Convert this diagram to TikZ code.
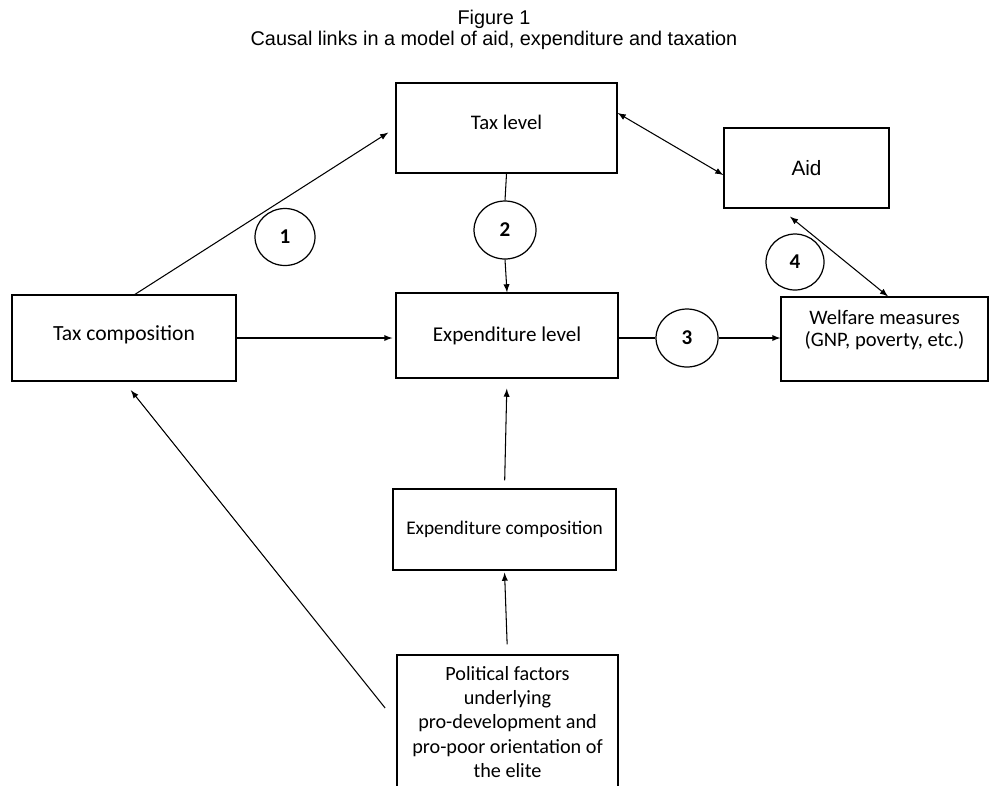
\documentclass[tikz,border=0pt]{standalone}
\usepackage{fontspec}
\setmainfont{Carlito}
\newfontfamily\arialfont{Liberation Sans}
\usetikzlibrary{positioning}
\usetikzlibrary{shapes.geometric}

\tikzset{
    box/.style={draw, rectangle, line width=0.75pt, inner sep=2pt, align=center,
        font=\fontsize{12.3}{13.9}\selectfont},
    numcirc/.style={draw, ellipse, line width=0.7pt, inner sep=0pt,
        minimum width=1.2cm, minimum height=1.14cm,
        font=\fontsize{12}{13}\selectfont\bfseries},
}

\begin{document}
\begin{tikzpicture}[x=0.02cm, y=-0.02cm, line width=0.6pt]
    \useasboundingbox (0,0) rectangle (989,785);
    \node[font=\arialfont\fontsize{11.3}{12}\selectfont, align=center] (title) at (494,30)
        {Figure 1\\Causal links in a model of aid, expenditure and taxation};

    % boxes
    \node[box, minimum width=4.42cm, minimum height=1.8cm, text depth=7pt, font=\fontsize{11.8}{13}\selectfont] (taxlevel) at (506.5,128) {Tax level};
    \node[box, minimum width=3.3cm, minimum height=1.6cm, font=\arialfont\fontsize{11.8}{13}\selectfont] (aid) at (806.5,168) {Aid};
    \node[box, minimum width=4.48cm, minimum height=1.72cm, text depth=6pt] (taxcomp) at (124,338) {Tax composition};
    \node[box, minimum width=4.44cm, minimum height=1.7cm, font=\fontsize{12}{13}\selectfont] (explevel) at (507,335.5) {Expenditure level};
    \node[box, minimum width=4.14cm, minimum height=1.68cm, font=\fontsize{11.7}{12.5}\selectfont, text depth=12pt] (welfare) at (884.5,339) {Welfare measures\\(GNP, poverty, etc.)};
    \node[box, minimum width=4.46cm, minimum height=1.62cm, font=\fontsize{11}{13}\selectfont] (expcomp) at (504.5,529.5) {Expenditure composition};
    \node[box, minimum width=4.42cm, minimum height=2.68cm, font=\fontsize{11.5}{13.9}\selectfont] (political) at (507.5,722)
        {Political factors\\underlying\\pro-development and\\pro-poor orientation of\\the elite};

    % numbered links
    \node[numcirc] (link1) at (285,237) {1};
    \node[numcirc, minimum width=1.24cm, minimum height=1.16cm] (link2) at (505,230) {2};
    \node[numcirc, minimum width=1.24cm, minimum height=1.16cm] (link3) at (687,338) {3};
    \node[numcirc, minimum width=1.16cm, minimum height=1.12cm] (link4) at (795,262) {4};

    % connectors
    \draw[-latex, shorten >=0.17cm] ([xshift=0.22cm]taxcomp.north) -- (taxlevel.west);
    \draw (taxlevel.south) -- (link2.north);
    \draw[-latex] (link2.south) -- (explevel.north);
    \draw[-latex, shorten >=0.06cm] (taxcomp.east) -- (taxcomp.east -| explevel.west);
    \draw (explevel.east |- link3.west) -- (link3.west);
    \draw[-latex] (link3.east) -- (link3.east -| welfare.west);
    \draw[latex-latex] ([yshift=0.3cm]taxlevel.east) -- ([yshift=-0.14cm]aid.west);
    \draw[latex-latex] ([xshift=-0.33cm, yshift=-0.16cm]aid.south) -- ([xshift=0.07cm]welfare.north);
    \draw[-latex, shorten <=0.16cm, shorten >=0.2cm] (expcomp.north) -- (explevel.south);
    \draw[-latex, shorten <=0.2cm, shorten >=0.04cm] (political.north) -- (expcomp.south);
    \draw[-latex, shorten <=0.36cm, shorten >=0.22cm] (political.west) -- (taxcomp.south);
\end{tikzpicture}
\end{document}
